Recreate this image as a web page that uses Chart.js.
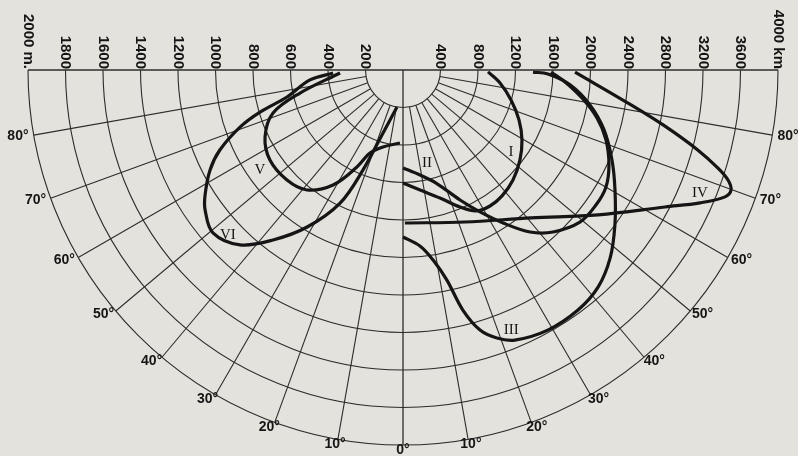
<!DOCTYPE html>
<html>
<head>
<meta charset="utf-8">
<script src="https://cdn.jsdelivr.net/npm/chart.js@4"></script>
<style>
  html, body { margin: 0; padding: 0; background: #e4e2dc; }
  #wrap { width: 798px; height: 456px; }
</style>
</head>
<body>
<div id="wrap"><canvas id="chart" width="798" height="456"></canvas></div>
<script>
// ─── Daten ──────────────────────────────────────────────────────────────────

// Skalen: links Meter, rechts Kilometer, Winkel von 0° (unten) bis 80°
const MAX_M = 2000;
const MAX_KM = 4000;
const rangeTicksM = [200, 400, 600, 800, 1000, 1200, 1400, 1600, 1800, 2000];
const rangeTicksKm = [400, 800, 1200, 1600, 2000, 2400, 2800, 3200, 3600, 4000];
const angleTicks = [10, 20, 30, 40, 50, 60, 70, 80];

// Kurven rechts (Winkel in Grad, Entfernung in km)
const curveI_deg = [88.7, 82.4, 74.5, 66.7, 59.5, 52.4, 45.0, 38.2, 32.6, 27.4, 22.6, 16.1, 8.1, 0];
const curveI_km  = [907, 1044, 1196, 1347, 1473, 1574, 1659, 1709, 1722, 1694, 1583, 1421, 1293, 1205];

const curveII_deg = [0, 9.2, 16.3, 23.7, 28.5, 33.2, 38.1, 42.8, 49.3, 55.0, 60.0, 65.2, 71.0, 76.1, 81.1, 85.8, 89.2];
const curveII_km  = [1045, 1135, 1256, 1514, 1723, 1950, 2196, 2355, 2489, 2512, 2499, 2420, 2290, 2132, 1933, 1733, 1579];

const curveIII_deg = [0, 5.5, 9.0, 11.8, 14.0, 16.5, 19.3, 22.5, 29.1, 36.1, 42.0, 47.8, 53.8, 60.5, 66.7, 73.4, 79.4, 84.9, 88.4, 89.1];
const curveIII_km  = [1781, 1886, 2052, 2289, 2639, 2893, 3029, 3118, 3175, 3168, 3112, 2983, 2801, 2598, 2427, 2238, 2029, 1789, 1547, 1387];

const curveIV_deg = [89.3, 81.3, 77.9, 74.8, 72.7, 71.3, 69.9, 68.5, 65.9, 62.4, 53.4, 40.9, 22.2, 0.7];
const curveIV_km  = [1835, 2461, 2858, 3261, 3519, 3660, 3726, 3692, 3471, 3154, 2592, 2087, 1751, 1632];

// Kurven links (Winkel in Grad, Entfernung in m)
const curveV_deg = [87.3, 77.4, 71.7, 64.1, 55.9, 46.5, 38.7, 31.3, 25.4, 21.7, 14.6, 2.4];
const curveV_m   = [336, 563, 730, 818, 857, 853, 820, 718, 573, 476, 424, 390];

const curveVI_deg = [87.5, 83.9, 76.9, 73.6, 70.7, 66.4, 62.6, 57.7, 54.7, 49.4, 43.0, 37.4, 31.4, 25.3, 21.8, 17.6, 9.2];
const curveVI_m   = [373, 499, 635, 795, 921, 1066, 1159, 1249, 1293, 1335, 1275, 1141, 981, 785, 574, 352, 200];

// Kurvenbeschriftungen (Winkel, Entfernung in der Einheit der jeweiligen Seite)
const curveLabels = ['I', 'II', 'III', 'IV', 'V', 'VI'];
const labelDeg    = [52.8, 14.5, 22.6, 67.5, 55.0, 46.7];
const labelRange  = [1446, 1024, 3003, 3429, 931, 1283];
const labelSide   = [1, 1, 1, 1, -1, -1];

// ─── Hilfsfunktionen ────────────────────────────────────────────────────────

const INK = '#151515';
const GRID = '#2c2c2c';

// Polar → kartesisch (Einheitskreis, Mittelpunkt oben, 0° zeigt nach unten)
function polarToXY(deg, frac, side) {
  const a = deg * Math.PI / 180;
  return { x: side * frac * Math.sin(a), y: -frac * Math.cos(a) };
}

function curvePoints(degs, vals, max, side) {
  return degs.map((d, i) => polarToXY(d, vals[i] / max, side));
}

// ─── Gitter-Plugin ──────────────────────────────────────────────────────────

const polarGrid = {
  id: 'polarGrid',
  beforeDatasetsDraw(chart) {
    const { ctx, scales: { x, y } } = chart;
    const px = p => ({ x: x.getPixelForValue(p.x), y: y.getPixelForValue(p.y) });
    const cx = x.getPixelForValue(0);
    const cy = y.getPixelForValue(0);
    const R = x.getPixelForValue(1) - cx;

    ctx.save();
    ctx.strokeStyle = GRID;
    ctx.lineWidth = 1.1;

    // Entfernungskreise
    rangeTicksM.forEach(m => {
      ctx.beginPath();
      ctx.arc(cx, cy, R * m / MAX_M, 0, Math.PI);
      ctx.stroke();
    });

    // Winkelstrahlen (ab dem inneren Kreis)
    const inner = rangeTicksM[0] / MAX_M;
    [-1, 1].forEach(side => {
      angleTicks.forEach(deg => {
        const a = px(polarToXY(deg, inner, side));
        const b = px(polarToXY(deg, 1, side));
        ctx.beginPath();
        ctx.moveTo(a.x, a.y);
        ctx.lineTo(b.x, b.y);
        ctx.stroke();
      });
    });

    // 0°-Linie und obere Achse
    ctx.lineWidth = 1.3;
    ctx.beginPath();
    ctx.moveTo(cx, cy);
    ctx.lineTo(cx, y.getPixelForValue(-1));
    ctx.stroke();
    ctx.lineWidth = 1.6;
    ctx.beginPath();
    ctx.moveTo(x.getPixelForValue(-1), cy);
    ctx.lineTo(x.getPixelForValue(1), cy);
    ctx.stroke();

    // Obere Beschriftung (gedreht)
    ctx.fillStyle = INK;
    ctx.font = 'bold 15px "Liberation Sans", Arial, sans-serif';
    ctx.textAlign = 'right';
    ctx.textBaseline = 'middle';
    const topLabel = (val, xv, suffix) => {
      ctx.save();
      ctx.translate(x.getPixelForValue(xv), cy - 1);
      ctx.rotate(Math.PI / 2);
      ctx.fillText(val + suffix, 0, 0);
      ctx.restore();
    };
    rangeTicksM.forEach((m, i) =>
      topLabel(m, -m / MAX_M, i === rangeTicksM.length - 1 ? ' m.' : ''));
    rangeTicksKm.forEach((k, i) =>
      topLabel(k, k / MAX_KM, i === rangeTicksKm.length - 1 ? ' km' : ''));

    // Winkelbeschriftung außen
    ctx.font = 'bold 14px "Liberation Sans", Arial, sans-serif';
    ctx.textAlign = 'center';
    const angleLabel = (deg, side) => {
      const a = deg * Math.PI / 180;
      const lx = cx + side * Math.sin(a) * (R + 16);
      const ly = cy + Math.cos(a) * (R + 5);
      ctx.fillText(deg + '°', lx, ly);
    };
    angleTicks.forEach(deg => { angleLabel(deg, -1); angleLabel(deg, 1); });
    angleLabel(0, 1);

    ctx.restore();
  },
  afterDatasetsDraw(chart) {
    const { ctx, scales: { x, y } } = chart;
    ctx.save();
    ctx.fillStyle = INK;
    ctx.font = '15px "Liberation Serif", "DejaVu Serif", serif';
    ctx.textAlign = 'center';
    ctx.textBaseline = 'middle';
    curveLabels.forEach((txt, i) => {
      const max = labelSide[i] > 0 ? MAX_KM : MAX_M;
      const p = polarToXY(labelDeg[i], labelRange[i] / max, labelSide[i]);
      ctx.fillText(txt, x.getPixelForValue(p.x), y.getPixelForValue(p.y));
    });
    ctx.restore();
  },
};

// ─── Chart ──────────────────────────────────────────────────────────────────

const lineStyle = {
  showLine: true,
  borderColor: INK,
  borderWidth: 3.2,
  pointRadius: 0,
  tension: 0.35,
  fill: false,
};

new Chart(document.getElementById('chart'), {
  type: 'scatter',
  data: {
    datasets: [
      { label: 'I',   data: curvePoints(curveI_deg,   curveI_km,   MAX_KM, 1),  ...lineStyle },
      { label: 'II',  data: curvePoints(curveII_deg,  curveII_km,  MAX_KM, 1),  ...lineStyle },
      { label: 'III', data: curvePoints(curveIII_deg, curveIII_km, MAX_KM, 1),  ...lineStyle },
      { label: 'IV',  data: curvePoints(curveIV_deg,  curveIV_km,  MAX_KM, 1),  ...lineStyle },
      { label: 'V',   data: curvePoints(curveV_deg,   curveV_m,    MAX_M, -1),  ...lineStyle },
      { label: 'VI',  data: curvePoints(curveVI_deg,  curveVI_m,   MAX_M, -1),  ...lineStyle },
    ],
  },
  options: {
    responsive: false,
    animation: false,
    layout: { padding: { left: 28, right: 20, top: 70, bottom: 11 } },
    plugins: { legend: { display: false }, tooltip: { enabled: false } },
    scales: {
      x: { type: 'linear', min: -1, max: 1, display: false },
      y: { type: 'linear', min: -1, max: 0, display: false },
    },
  },
  plugins: [polarGrid],
});
</script>
</body>
</html>
